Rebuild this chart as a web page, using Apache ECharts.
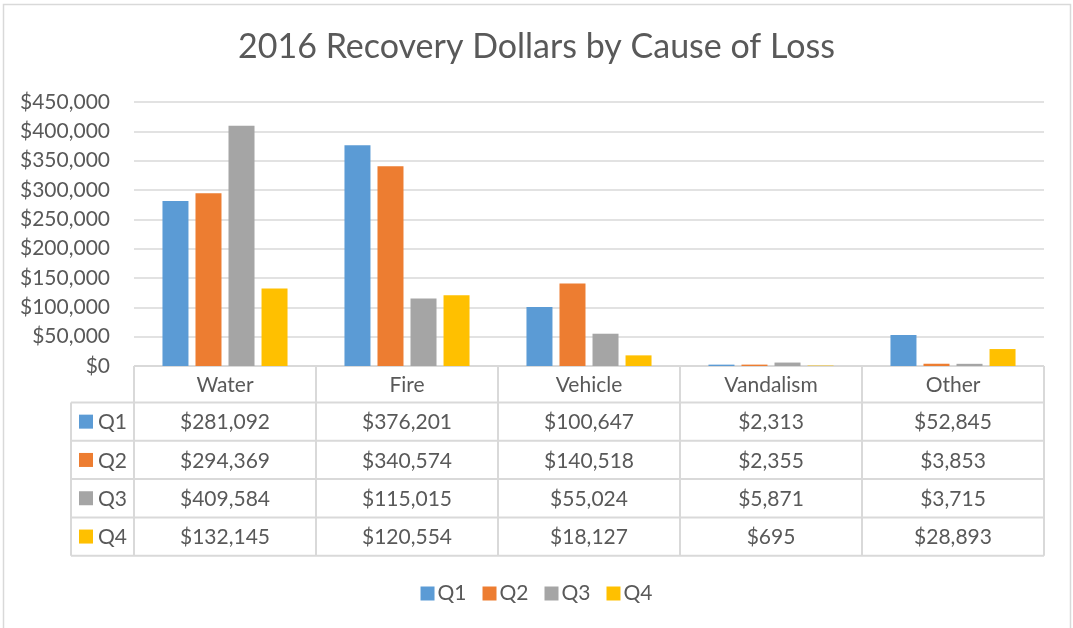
<!DOCTYPE html>
<html>
<head>
<meta charset="utf-8">
<script src="https://cdn.jsdelivr.net/npm/echarts@6/dist/echarts.min.js"></script>
<style>
html,body{margin:0;padding:0;background:#fff;}
#main{width:1073px;height:628px;}
</style>
</head>
<body>
<div id="main"></div>
<script>
const title = '2016 Recovery Dollars by Cause of Loss';
const categories = ['Water', 'Fire', 'Vehicle', 'Vandalism', 'Other'];
const seriesNames = ['Q1', 'Q2', 'Q3', 'Q4'];
const q1 = [281092, 376201, 100647, 2313, 52845];
const q2 = [294369, 340574, 140518, 2355, 3853];
const q3 = [409584, 115015, 55024, 5871, 3715];
const q4 = [132145, 120554, 18127, 695, 28893];
const colors = ['#5B9BD5', '#ED7D31', '#A5A5A5', '#FFC000'];
const yMin = 0, yMax = 450000, yInterval = 50000;

const seriesData = [q1, q2, q3, q4];
const FONT = 'Lato, "Open Sans", sans-serif';
const TXT = '#595959';
const LINE = '#d9d9d9';
const fmt = v => '$' + v.toLocaleString('en-US');

const W = 1073, H = 628;
const G = {left: 134, right: 29, top: 102, bottom: 262};
const plotW = W - G.left - G.right;
const colW = plotW / categories.length;
const tableTop = H - G.bottom;
const headerH = 36.5;
const rowH = 38.3;
const labelLeft = 71;

const chart = echarts.init(document.getElementById('main'));

const graphics = [];
// outer chart border
graphics.push({type: 'rect', shape: {x: 3.5, y: 4.5, width: 1067, height: 640},
  style: {fill: null, stroke: LINE, lineWidth: 1.5}, silent: true});

const tableBottom = tableTop + headerH + rowH * seriesNames.length;
const right = G.left + plotW;
// horizontal lines
graphics.push({type: 'line', shape: {x1: G.left, y1: tableTop, x2: right, y2: tableTop}, style: {stroke: LINE, lineWidth: 2}});
for (let r = 0; r <= seriesNames.length; r++) {
  const y = tableTop + headerH + r * rowH;
  graphics.push({type: 'line', shape: {x1: labelLeft, y1: y, x2: right, y2: y}, style: {stroke: LINE, lineWidth: 2}});
}
// vertical lines
graphics.push({type: 'line', shape: {x1: labelLeft, y1: tableTop + headerH, x2: labelLeft, y2: tableBottom}, style: {stroke: LINE, lineWidth: 2}});
for (let c = 0; c <= categories.length; c++) {
  const x = G.left + c * colW;
  graphics.push({type: 'line', shape: {x1: x, y1: tableTop, x2: x, y2: tableBottom}, style: {stroke: LINE, lineWidth: 2}});
}
// header texts
categories.forEach((cat, c) => {
  graphics.push({type: 'text', x: G.left + (c + 0.5) * colW, y: tableTop + headerH / 2 + 1,
    style: {text: cat, fill: TXT, font: '21px ' + FONT, align: 'center', verticalAlign: 'middle'}});
});
// rows
seriesNames.forEach((name, r) => {
  const cy = tableTop + headerH + (r + 0.5) * rowH + 1;
  graphics.push({type: 'rect', shape: {x: 79, y: cy - 8, width: 14, height: 14}, style: {fill: colors[r]}});
  graphics.push({type: 'text', x: 98, y: cy,
    style: {text: name, fill: TXT, font: '21px ' + FONT, align: 'left', verticalAlign: 'middle'}});
  seriesData[r].forEach((v, c) => {
    graphics.push({type: 'text', x: G.left + (c + 0.5) * colW, y: cy,
      style: {text: fmt(v), fill: TXT, font: '21px ' + FONT, align: 'center', verticalAlign: 'middle'}});
  });
});

chart.setOption({
  animation: false,
  backgroundColor: '#fff',
  color: colors,
  title: {text: title, left: 'center', top: 25,
    textStyle: {fontFamily: FONT, fontSize: 34, fontWeight: 'normal', color: TXT}},
  legend: {data: seriesNames, top: 578, left: 'center', icon: 'rect', itemWidth: 14, itemHeight: 14,
    itemGap: 16, textStyle: {fontFamily: FONT, fontSize: 21, color: TXT, padding: [0, 0, 0, -2]}},
  grid: {left: G.left, right: G.right, top: G.top, bottom: G.bottom, containLabel: false},
  xAxis: {type: 'category', data: categories, axisLine: {show: false}, axisTick: {show: false},
    axisLabel: {show: false}},
  yAxis: {type: 'value', min: yMin, max: yMax, interval: yInterval,
    axisLine: {show: false}, axisTick: {show: false},
    splitLine: {lineStyle: {color: LINE, width: 1.5}},
    axisLabel: {formatter: v => fmt(v), fontFamily: FONT, fontSize: 21, color: TXT, margin: 24}},
  series: seriesNames.map((n, i) => ({
    name: n, type: 'bar', data: seriesData[i], barWidth: 26, barGap: '27%'
  })),
  graphic: graphics
});
</script>
</body>
</html>
